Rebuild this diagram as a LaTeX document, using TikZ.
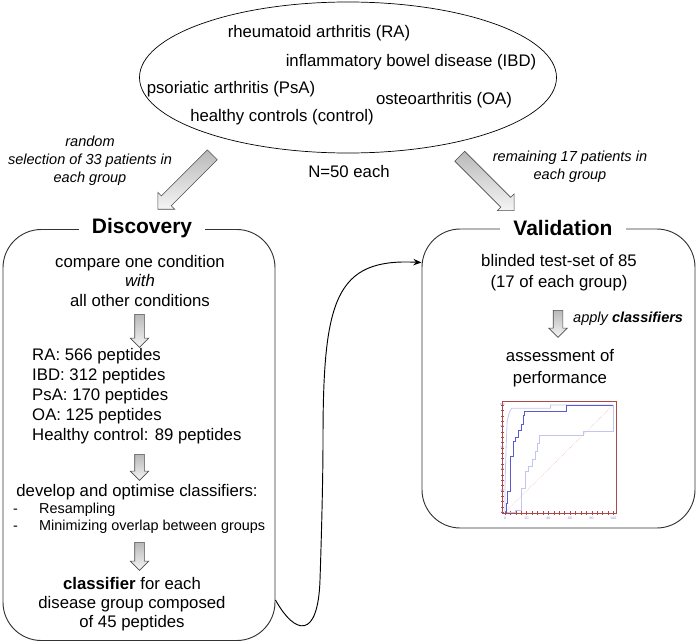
\documentclass[tikz,border=0pt]{standalone}
\usepackage{fontspec}
\setmainfont{Liberation Sans}
\usepackage{tikz}
\usetikzlibrary{shapes,arrows.meta,positioning,calc}
\definecolor{rocred}{RGB}{172,72,72}
\definecolor{rocblue}{RGB}{90,90,210}
\definecolor{roclight}{RGB}{196,196,240}
\definecolor{rocpink}{RGB}{240,160,160}

\begin{document}
\begin{tikzpicture}[x=0.03cm, y=-0.03cm,
    txt/.style={font=\fontsize{14.3pt}{17pt}\selectfont, inner sep=0pt, align=center},
    note/.style={font=\fontsize{12.4pt}{15.3pt}\selectfont\itshape, inner sep=0pt, align=center},
    phasetitle/.style={font=\fontsize{17.9pt}{20pt}\selectfont\bfseries, fill=white, inner xsep=0.39cm, inner ysep=2pt},
    phase/.style={draw=black!80, line width=0.8pt, rounded corners=1.15cm},
    bigarrow/.style={single arrow, draw=black!70, line width=0.5pt, top color=gray!55, bottom color=gray!8, inner sep=0.2cm, single arrow head extend=0.15cm, minimum height=2.31cm},
    smallarrow/.style={single arrow, draw=black!70, line width=0.5pt, top color=gray!55, bottom color=gray!8, inner sep=0.135cm, single arrow head extend=0.135cm, rotate=-90}]
    \useasboundingbox (0,0) rectangle (697,643);

    \node[draw, ellipse, line width=0.6pt, minimum width=12.51cm, minimum height=4.53cm] (cohort) at (348,77.5) {};
    \node[txt] (ra) at (319,33) {rheumatoid arthritis (RA)};
    \node[txt] (ibd) at (411,62) {inflammatory bowel disease (IBD)};
    \node[txt] (psa) at (231,89) {psoriatic arthritis (PsA)};
    \node[txt] (oa) at (444,100) {osteoarthritis (OA)};
    \node[txt] (ctrl) at (282,117) {healthy controls (control)};
    \node[txt] (n50) at (349,172) {N=50 each};

    \node[bigarrow, rotate=-135] (toDisc) at (187.5,179.6) {};
    \node[bigarrow, rotate=-45] (toVal) at (484.5,181) {};
    \node[note] (randnote) at (90,161) {random\\selection of 33 patients in\\each group};
    \node[note] (remnote) at (570,167) {remaining 17 patients in\\each group};

    \node[phase, minimum width=8.16cm, minimum height=12.33cm] (discovery) at (139,435) {};
    \node[phasetitle] (distitle) at (142,228) {Discovery};
    \node[phase, minimum width=8.19cm, minimum height=8.97cm] (validation) at (558.5,378.5) {};
    \node[phasetitle] (valtitle) at (563,228) {Validation};

    \node[txt, font=\fontsize{14.3pt}{16.6pt}\selectfont] (compare) at (140,281) {compare one condition\\\textit{with}\\all other conditions};
    \node[smallarrow, minimum height=0.99cm] (step1) at (139.5,328.5) {};
    \node[txt, align=left, anchor=west, font=\fontsize{14.3pt}{17.2pt}\selectfont] (peptides) at (32,396) {RA: 566 peptides\\IBD: 312 peptides\\PsA: 170 peptides\\OA: 125 peptides\\Healthy control: 89 peptides};
    \node[smallarrow, minimum height=0.78cm] (step2) at (139.5,465) {};
    \node[txt] (develop) at (137,492) {develop and optimise classifiers:};
    \node[txt, align=left, anchor=west, font=\fontsize{12.3pt}{14.5pt}\selectfont] (methods) at (13,518.5) {\makebox[0.78cm][l]{-}Resampling\\\makebox[0.78cm][l]{-}Minimizing overlap between groups};
    \node[smallarrow, minimum height=0.84cm] (step3) at (139.5,554) {};
    \node[txt, font=\fontsize{14.3pt}{16.5pt}\selectfont] (result) at (132,604) {\textbf{classifier} for each\\disease group composed\\of 45 peptides};

    \node[txt, font=\fontsize{14.3pt}{17.9pt}\selectfont] (blinded) at (559,272.5) {blinded test-set of 85\\(17 of each group)};
    \node[smallarrow, minimum height=0.81cm] (step4) at (558,321.5) {};
    \node[note, anchor=west] (apply) at (573,319) {apply \textbf{classifiers}};
    \node[txt, font=\fontsize{14.3pt}{18.7pt}\selectfont] (assess) at (560,368) {assessment of\\performance};

    \node[draw=rocred, line width=0.8pt, minimum width=3.42cm, minimum height=3.36cm, inner sep=0pt] (roc) at (559.7,457.5) {};
    \begin{scope}[shift={(505,512.3)}, x=0.0325cm, y=0.0322cm]
        \foreach \t in {0,5,...,100} {
            \draw[rocred, line width=0.3pt] (\t,-2.5) -- (\t,0.8);
            \draw[rocred, line width=0.3pt] (-3.5,\t) -- (-0.5,\t);
        }
        \foreach \t in {0,20,...,100} {
            \node[font=\fontsize{3pt}{3pt}\selectfont, text=rocblue!70, inner sep=0pt] (xl\t) at (\t,-6) {\t};
            \node[font=\fontsize{2.5pt}{2.5pt}\selectfont, text=rocblue!70, inner sep=0pt] (yl\t) at (-2.5,\t) {\t};
        }
        \draw[rocpink, densely dotted, line width=0.4pt] (0,0) -- (100,100);
        \draw[roclight, line width=0.7pt] (0,0) -- (0,25) -- (1,60) -- (2,85) -- (4,93) -- (6,97) -- (42,97) -- (42,100) -- (100,100);
        \draw[roclight, line width=0.7pt] (0,0) -- (10,0) -- (10,2) -- (15,2) -- (15,22) -- (19,22) -- (19,38) -- (22,38) -- (22,43) -- (25,43) -- (25,49) -- (28,49) -- (28,57) -- (30,57) -- (30,64) -- (32,64) -- (32,72) -- (72,72) -- (72,75) -- (100,75) -- (100,100);
        \draw[rocblue, line width=0.8pt] (0,0) -- (1,0) -- (1,8) -- (2,8) -- (2,19) -- (5,19) -- (5,52) -- (8,52) -- (8,66) -- (10,66) -- (10,70) -- (12,70) -- (12,76) -- (15,76) -- (15,82) -- (17,82) -- (17,90) -- (18,90) -- (18,94) -- (57,94) -- (57,100) -- (100,100);
    \end{scope}

    \draw[-{Stealth[length=7pt,width=5.5pt]}, line width=0.8pt] ($(discovery.south east)+(0,-41)$) .. controls (295,635) and (318,640) .. (320,580) .. controls (322,520) and (323,470) .. (323,440) .. controls (323,300) and (335,258) .. ($(validation.north west)+(0,34)$);
\end{tikzpicture}
\end{document}
